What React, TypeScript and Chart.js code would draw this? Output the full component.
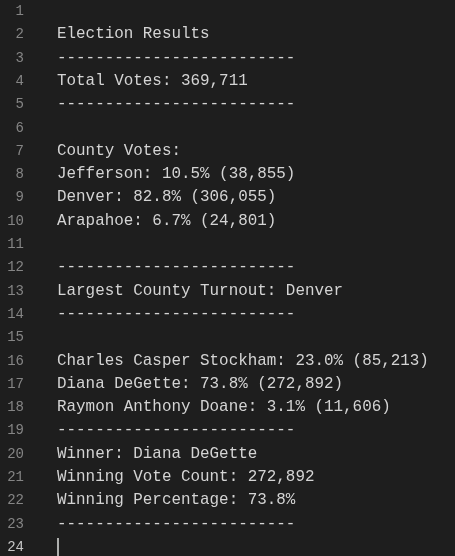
import React, { useEffect, useRef } from 'react';
import Chart from 'chart.js/auto';

const dashes = '-------------------------';
const lines: string[] = [
  '',
  'Election Results',
  dashes,
  'Total Votes: 369,711',
  dashes,
  '',
  'County Votes:',
  'Jefferson: 10.5% (38,855)',
  'Denver: 82.8% (306,055)',
  'Arapahoe: 6.7% (24,801)',
  '',
  dashes,
  'Largest County Turnout: Denver',
  dashes,
  '',
  'Charles Casper Stockham: 23.0% (85,213)',
  'Diana DeGette: 73.8% (272,892)',
  'Raymon Anthony Doane: 3.1% (11,606)',
  dashes,
  'Winner: Diana DeGette',
  'Winning Vote Count: 272,892',
  'Winning Percentage: 73.8%',
  dashes,
  '',
];
const lineHeight = 23.3;

const App: React.FC = () => {
  const chartRef = useRef<HTMLCanvasElement>(null);

  useEffect(() => {
    document.body.style.margin = '0';
    if (!chartRef.current) return;
    // empty chart layer behind the editor text
    const chart = new Chart(chartRef.current, {
      type: 'bar',
      data: { labels: [], datasets: [{ data: [] }] },
      options: {
        animation: false,
        responsive: false,
        plugins: { legend: { display: false }, tooltip: { enabled: false } },
        scales: { x: { display: false }, y: { display: false } },
      },
    });
    return () => chart.destroy();
  }, []);

  return (
    <div style={{ position: 'relative', width: 455, height: 556, background: '#1e1e1e', overflow: 'hidden', fontFamily: '"Liberation Mono", monospace', fontSize: 15.9 }}>
      <canvas ref={chartRef} width={455} height={556} style={{ position: 'absolute', left: 0, top: 0 }} />
      {lines.map((t, i) => (
        <div key={i} style={{ position: 'absolute', top: i * lineHeight, left: 0, height: lineHeight, lineHeight: `${lineHeight}px`, whiteSpace: 'pre' }}>
          <span style={{ position: 'absolute', right: -24, width: 24, textAlign: 'right', color: i === 23 ? '#c6c6c6' : '#858585', fontSize: 14 }}>{i + 1}</span>
          <span style={{ position: 'absolute', left: 57, color: '#d4d4d4' }}>{t}</span>
        </div>
      ))}
      <div style={{ position: 'absolute', left: 57, top: 23 * lineHeight + 2, width: 2, height: 19, background: '#aeafad' }} />
    </div>
  );
};

export default App;
